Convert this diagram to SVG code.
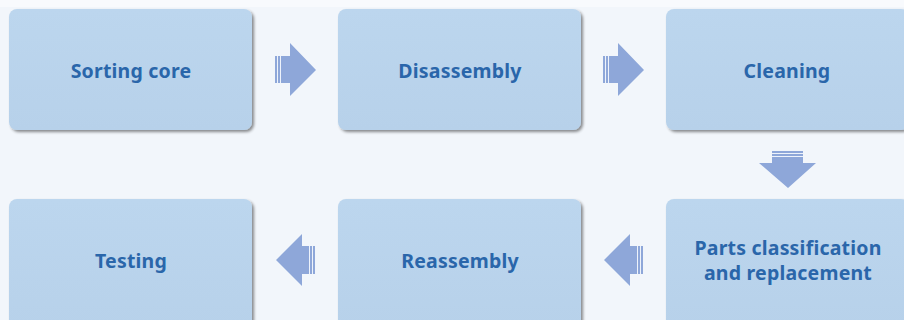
<svg xmlns="http://www.w3.org/2000/svg" width="904" height="320" viewBox="0 0 904 320">
<defs>
<filter id="sh" x="-5%" y="-5%" width="115%" height="120%">
<feGaussianBlur in="SourceAlpha" stdDeviation="1.5"/>
<feOffset dx="2" dy="2"/>
<feComponentTransfer><feFuncA type="linear" slope="0.45"/></feComponentTransfer>
<feMerge><feMergeNode/><feMergeNode in="SourceGraphic"/></feMerge>
</filter>
<linearGradient id="bg" x1="0" y1="0" x2="0" y2="1">
<stop offset="0" stop-color="#bcd6ee"/>
<stop offset="1" stop-color="#b7d1ea"/>
</linearGradient>
</defs>
<style>
.box{fill:url(#bg);filter:url(#sh)}
.t{font-family:"Noto Sans","DejaVu Sans",sans-serif;font-weight:bold;font-size:19.5px;letter-spacing:0.2px;fill:#2a66aa;text-anchor:middle}
.ar{fill:#8ea7d9}
.st{stroke:#eef3fb;stroke-width:1}
</style>
<rect width="904" height="320" fill="#f2f6fb"/>
<rect width="904" height="7" fill="#f8fafd"/>
<g id="n1"><rect class="box" x="9" y="9" width="243" height="121" rx="8"/><text class="t" x="131" y="78">Sorting core</text></g>
<g id="n2"><rect class="box" x="338" y="9" width="243" height="121" rx="8"/><text class="t" x="460" y="78">Disassembly</text></g>
<g id="n3"><rect class="box" x="666" y="9" width="243" height="121" rx="8"/><text class="t" x="787" y="78">Cleaning</text></g>
<g id="n4"><rect class="box" x="666" y="199" width="243" height="130" rx="8"/><text class="t" x="788" y="255">Parts classification</text><text class="t" x="788" y="280">and replacement</text></g>
<g id="n5"><rect class="box" x="338" y="199" width="243" height="130" rx="8"/><text class="t" x="460" y="268">Reassembly</text></g>
<g id="n6"><rect class="box" x="9" y="199" width="243" height="130" rx="8"/><text class="t" x="131" y="268">Testing</text></g>
<g id="connectors">
<g><polygon class="ar" points="275,56 290,56 290,43 316,70 290,96 290,83 275,83"/><line class="st" x1="277.5" y1="56" x2="277.5" y2="83"/><line class="st" x1="280.5" y1="56" x2="280.5" y2="83"/></g>
<g><polygon class="ar" points="603,56 618,56 618,43 644,70 618,96 618,83 603,83"/><line class="st" x1="605.5" y1="56" x2="605.5" y2="83"/><line class="st" x1="608.5" y1="56" x2="608.5" y2="83"/></g>
<g><polygon class="ar" points="772,151 803,151 803,163 816,163 788,188 759,163 772,163"/><line class="st" x1="772" y1="153.5" x2="803" y2="153.5"/><line class="st" x1="772" y1="156.5" x2="803" y2="156.5"/></g>
<g><polygon class="ar" points="643,246 630,246 630,234 604,260 630,286 630,274 643,274"/><line class="st" x1="640.5" y1="246" x2="640.5" y2="274"/><line class="st" x1="637.5" y1="246" x2="637.5" y2="274"/></g>
<g><polygon class="ar" points="315,246 302,246 302,234 276,260 302,286 302,274 315,274"/><line class="st" x1="312.5" y1="246" x2="312.5" y2="274"/><line class="st" x1="309.5" y1="246" x2="309.5" y2="274"/></g>
</g>
</svg>
